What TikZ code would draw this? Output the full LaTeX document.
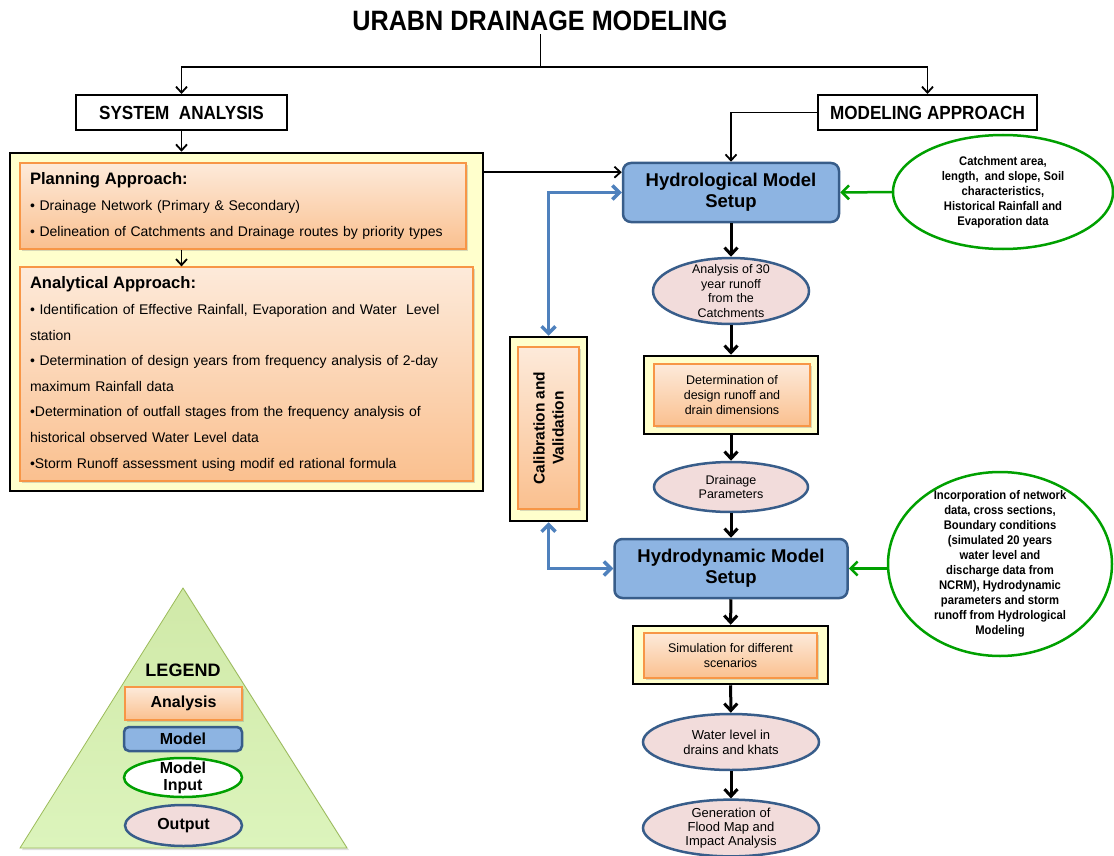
\documentclass[tikz,border=0pt]{standalone}
\usepackage{fontspec}
\setmainfont{Liberation Sans}
\newfontfamily\narrowsf[FakeStretch=0.9]{Liberation Sans}
\usetikzlibrary{shapes.geometric,arrows.meta,calc,shadows}

\definecolor{boxyellow}{HTML}{FFFFCC}
\definecolor{orangetop}{HTML}{FDEADA}
\definecolor{orangebot}{HTML}{FAC08F}
\definecolor{orangeline}{HTML}{F79646}
\definecolor{modelblue}{HTML}{8DB4E2}
\definecolor{modelline}{HTML}{385D8A}
\definecolor{outpink}{HTML}{F2DCDB}
\definecolor{inputgreen}{HTML}{00A000}
\definecolor{calblue}{HTML}{4F81BD}
\definecolor{legtop}{HTML}{D0E9A8}
\definecolor{legbot}{HTML}{DCF4BC}
\definecolor{legline}{HTML}{9BBB59}

\newcommand{\fsz}[2]{\fontsize{#1}{#2}\selectfont}

\tikzset{
  headbox/.style={draw, line width=2pt, minimum height=35pt, font=\narrowsf\bfseries\fsz{19}{22}},
  yellowbox/.style={draw, line width=2.5pt, fill=boxyellow},
  anabox/.style={draw=orangeline, line width=1.2pt, top color=orangetop, bottom color=orangebot,
    drop shadow={shadow xshift=2pt, shadow yshift=-2pt, opacity=0.3}},
  modelbox/.style={draw=modelline, line width=2.5pt, fill=modelblue, rounded corners=8pt,
    align=center, font=\bfseries\fsz{18.5}{21}},
  outell/.style={ellipse, draw=modelline, line width=2.5pt, fill=outpink, inner sep=0pt, align=center},
  inell/.style={ellipse, draw=inputgreen, line width=2.5pt, fill=white, inner sep=0pt, align=center,
    font=\narrowsf\bfseries\fsz{12.5}{15}},
  treearrow/.style={-{Straight Barb[length=6pt,width=11pt]}, line width=1.8pt},
  flowarrow/.style={-{Straight Barb[length=7pt,width=13pt]}, line width=3pt},
  calarrow/.style={{Straight Barb[length=7pt,width=14pt]}-{Straight Barb[length=7pt,width=14pt]},
    draw=calblue, line width=3.5pt},
  feedarrow/.style={-{Straight Barb[length=7pt,width=14pt]}, draw=inputgreen, line width=2.5pt}
}

\begin{document}
\begin{tikzpicture}[x=1pt, y=-1pt]
    \useasboundingbox (0,0) rectangle (1114,856);

    % top of the tree
    \node[font=\narrowsf\bfseries\fsz{28}{30}] (title) at (540,21) {URABN DRAINAGE MODELING};
    \node[headbox, minimum width=211pt] (sys) at (181.5,112.5) {SYSTEM\ \ ANALYSIS};
    \node[headbox, minimum width=219pt] (mod) at (927.5,112.5) {MODELING APPROACH};
    \coordinate (split) at (540,67);
    \draw[line width=1pt] (title) -- (split);
    \draw[treearrow] (split) -| (sys);
    \draw[treearrow] (split) -| (mod);

    % system analysis
    \node[yellowbox, minimum width=473pt, minimum height=338pt] (sysbox) at (246.5,322) {};
    \node[anabox, minimum width=446pt, minimum height=86pt, text width=426pt, inner xsep=10pt, align=left,
        font=\fsz{14}{26}] (plan) at (243,206)
        {{\bfseries\fsz{16.6}{26}Planning Approach:}\\
         • Drainage Network (Primary \& Secondary)\\
         • Delineation of Catchments and Drainage routes by priority types};
    \node[anabox, minimum width=453pt, minimum height=214pt, text width=433pt, inner xsep=10pt, align=left,
        font=\fsz{14}{25.6}] (anal) at (246.5,374)
        {{\bfseries\fsz{16.6}{25.6}Analytical Approach:}\\
         • Identification of Effective Rainfall, Evaporation and Water\ \ Level\\
         station\\
         • Determination of design years from frequency analysis of 2-day\\
         maximum Rainfall data\\
         •Determination of outfall stages from the frequency analysis of\\
         historical observed Water Level data\\
         •Storm Runoff assessment using modif ed rational formula};
    \draw[treearrow] (sys) -- (sys.south |- sysbox.north);
    \draw[treearrow] (plan.south -| sys) -- (anal.north -| sys);

    % modeling chain
    \node[modelbox, minimum width=216pt, minimum height=59pt] (hydro) at (731,192.5) {Hydrological Model\\Setup};
    \node[outell, minimum width=156pt, minimum height=66pt, inner ysep=-4pt, font=\fsz{12.5}{14.7}] (ana30) at (731,291)
        {Analysis of 30\\year runoff\\from the\\Catchments};
    \node[yellowbox, minimum width=174pt, minimum height=78pt] (det) at (731,395) {};
    \node[anabox, minimum width=156pt, minimum height=62pt, align=center, font=\fsz{12.5}{15}] (detin) at (732,395)
        {Determination of\\design runoff and\\drain dimensions};
    \node[outell, minimum width=154pt, minimum height=50pt, font=\fsz{12.5}{14.5}] (drain) at (731,487) {Drainage\\Parameters};
    \node[modelbox, minimum width=233pt, minimum height=59pt] (hdyn) at (731,568.5) {Hydrodynamic Model\\Setup};
    \node[yellowbox, minimum width=195pt, minimum height=58pt] (sim) at (730.5,655) {};
    \node[anabox, minimum width=173pt, minimum height=45pt, align=center, font=\fsz{12.5}{15}] (simin) at (730.5,655.5)
        {Simulation for different\\scenarios};
    \node[outell, minimum width=176pt, minimum height=56pt, font=\fsz{13}{15}] (wl) at (731,742) {Water level in\\drains and khats};
    \node[outell, minimum width=176pt, minimum height=56pt, font=\fsz{13}{14}] (gen) at (731,828)
        {Generation of\\Flood Map and\\Impact Analysis};

    \draw[treearrow] (mod) -| (hydro);
    \coordinate (hyin) at ($(hydro.north west)!0.17!(hydro.south west)$);
    \draw[treearrow] (sysbox.east |- hyin) -- (hyin);
    \draw[flowarrow] (hydro) -- (ana30);
    \draw[flowarrow] (ana30) -- (det);
    \draw[flowarrow] (det) -- (drain);
    \draw[flowarrow] (drain) -- (hdyn);
    \draw[flowarrow] (hdyn) -- (sim);
    \draw[flowarrow] (sim) -- (wl);
    \draw[flowarrow] (wl) -- (gen);

    % model inputs
    \node[inell, minimum width=220pt, minimum height=114pt] (gin) at (1003,192)
        {Catchment area,\\length,\ \ and slope, Soil\\characteristics,\\Historical Rainfall and\\Evaporation data};
    \node[inell, minimum width=224pt, minimum height=184pt, inner ysep=-10pt] (hdin) at (1000,564)
        {Incorporation of network\\data, cross sections,\\Boundary conditions\\(simulated 20 years\\water level and\\discharge data from\\NCRM), Hydrodynamic\\parameters and storm\\runoff from Hydrological\\Modeling};
    \draw[feedarrow] (gin) -- (hydro);
    \draw[feedarrow] (hdin.west |- hdyn) -- (hdyn);

    % calibration
    \node[yellowbox, minimum width=77pt, minimum height=184pt] (calib) at (548.5,429) {};
    \node[anabox, rotate=90, minimum width=162pt, minimum height=61pt, align=center, font=\bfseries\fsz{15.5}{19}] (calin)
        at (548.5,428) {Calibration and\\Validation};
    \draw[calarrow] (calib) |- (hydro);
    \draw[calarrow] (calib) |- (hdyn);

    % legend
    \path[top color=legtop, bottom color=legbot, draw=legline, line width=0.8pt,
        drop shadow={shadow xshift=2pt, shadow yshift=-2pt, opacity=0.25}] (183,588) -- (347,848) -- (20,848) -- cycle;
    \node[font=\bfseries\fsz{18}{20}] (legtitle) at (183,670) {LEGEND};
    \node[anabox, minimum width=117pt, minimum height=33pt, font=\bfseries\fsz{16}{18}] (leganal) at (183.5,703.5) {Analysis};
    \node[modelbox, minimum width=118pt, minimum height=24pt, rounded corners=5pt, inner sep=1pt,
        font=\bfseries\fsz{16}{18}] (legmodel) at (183,739) {Model};
    \node[inell, minimum width=118pt, minimum height=39pt, inner ysep=-6pt, font=\bfseries\fsz{16}{17}] (leginput)
        at (183,777.5) {Model\\Input};
    \node[outell, minimum width=117pt, minimum height=41pt, font=\bfseries\fsz{16}{18}] (legout) at (183.5,825.5) {Output};
\end{tikzpicture}
\end{document}
